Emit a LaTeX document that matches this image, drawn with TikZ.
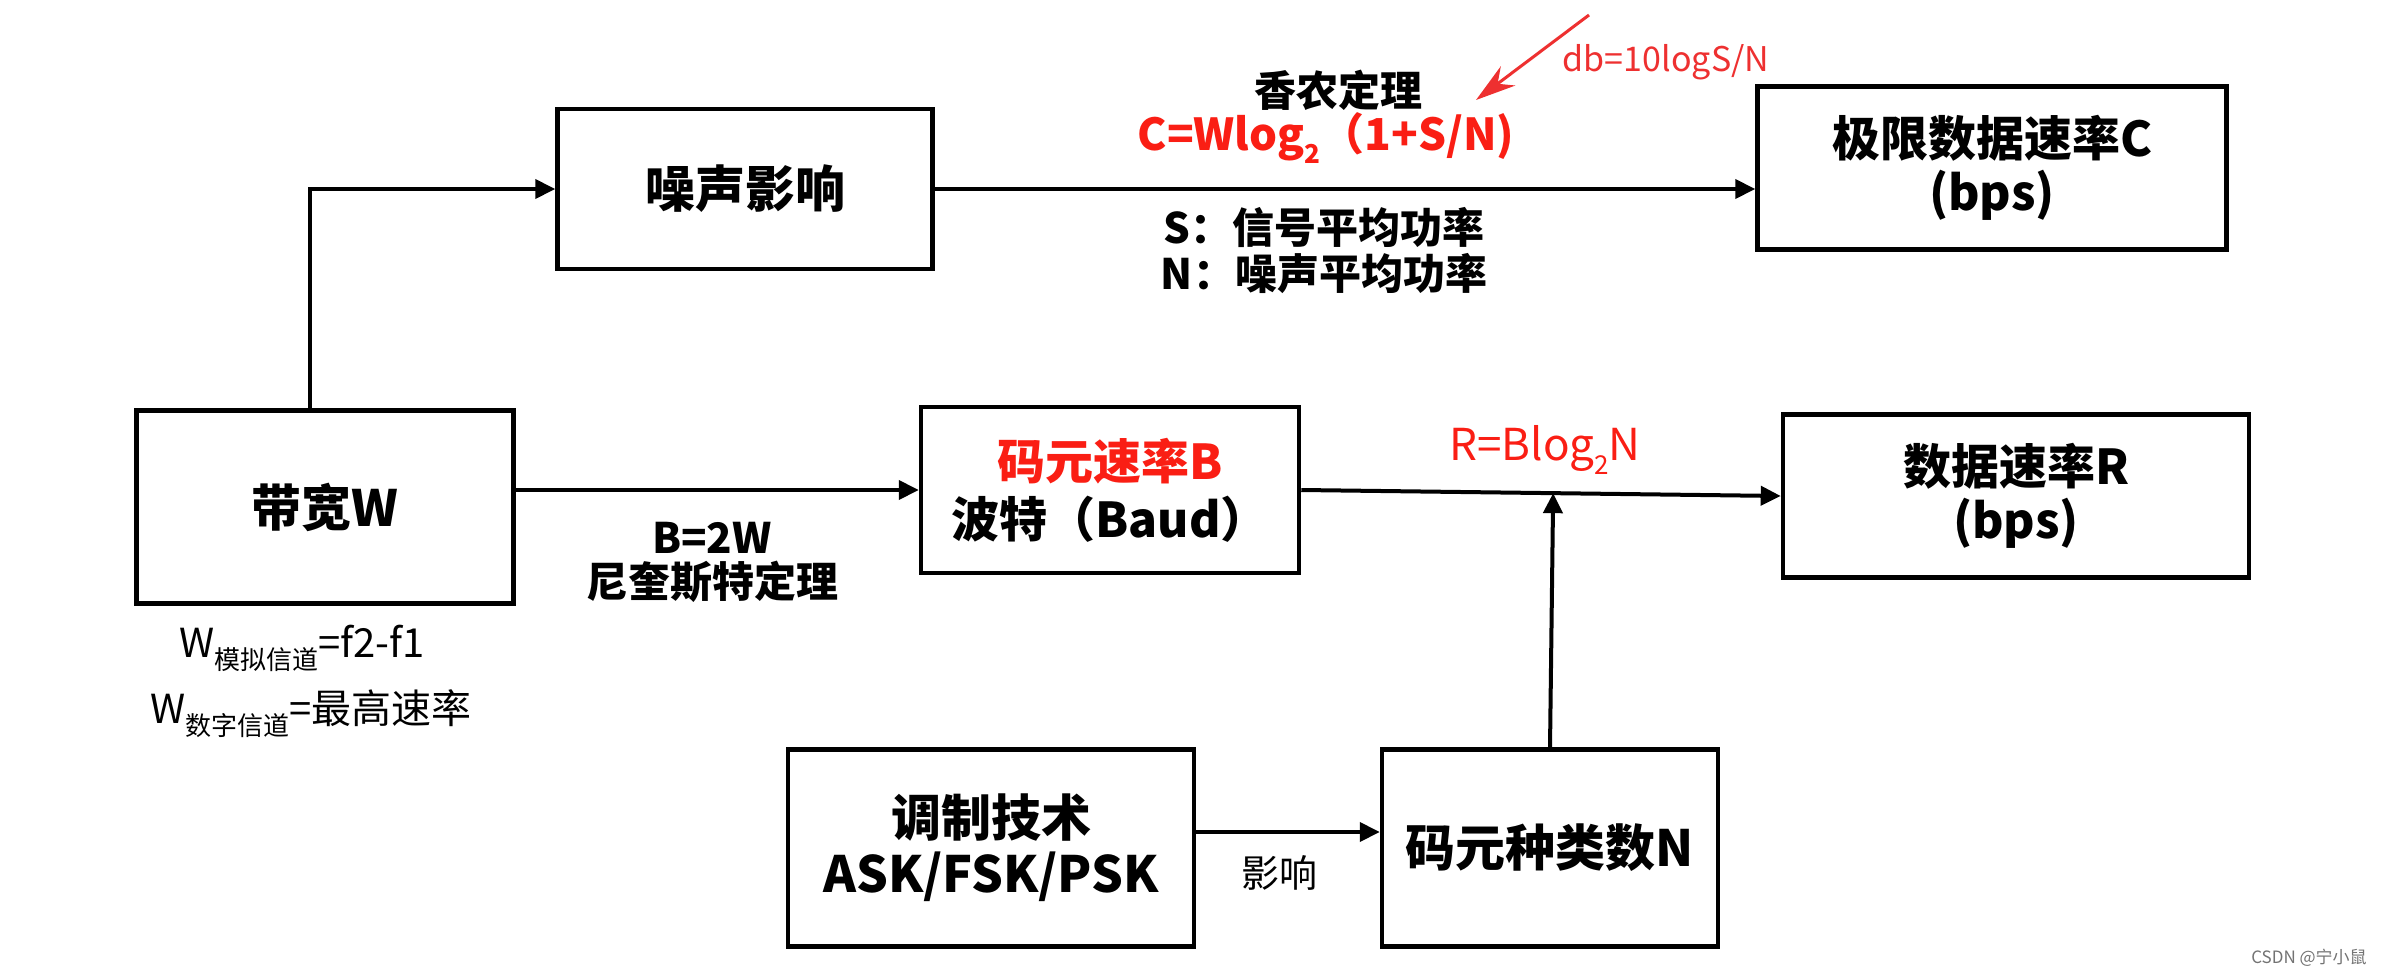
\documentclass[tikz,border=0pt]{standalone}
\usepackage{fontspec}
\setmainfont{Noto Sans CJK SC}
\usetikzlibrary{arrows.meta,calc}
\definecolor{myred}{RGB}{250,30,20}
\definecolor{annred}{RGB}{238,48,48}
\newcommand\fs[1]{\fontsize{#1}{#1}\selectfont}
\newcommand\lowsub[1]{\raisebox{-0.3em}{\fontsize{26}{26}\selectfont #1}}
\begin{document}
\begin{tikzpicture}[x=1pt,y=-1pt,
  box/.style={draw,line width=4.5pt,inner sep=0pt,align=center,font=\fs{50}\bfseries},
  conn/.style={line width=4pt,-{Triangle[length=20pt,width=19pt]}},
  lbl/.style={inner sep=0pt,align=center,font=\fs{42}\bfseries},
  plain/.style={inner sep=0pt,align=center,font=\fs{42}}]
\useasboundingbox (0,0) rectangle (2382,974);
\fill[white] (0,0) rectangle (2382,974);
% boxes
\node[box,minimum width=375pt,minimum height=160pt] (noise) at (745,189) {噪声影响};
\node[box,minimum width=469pt,minimum height=163pt,font=\fs{48}\bfseries] (limit) at (1992,168) {极限数据速率C\\[6pt](bps)};
\node[box,minimum width=377pt,minimum height=193pt] (bw) at (325,507) {带宽W};
\node[box,minimum width=378pt,minimum height=166pt,font=\fs{48}\bfseries] (baud) at (1110,490) {\textcolor{myred}{码元速率B}\\[10pt]波特（Baud）};
\node[box,minimum width=466pt,minimum height=163pt,font=\fs{48}\bfseries] (rate) at (2016,496) {数据速率R\\[6pt](bps)};
\node[box,minimum width=406pt,minimum height=197pt] (mod) at (991,848) {调制技术\\[6pt]ASK/FSK/PSK};
\node[box,minimum width=336pt,minimum height=197pt] (kind) at (1550,848) {码元种类数N};
% connectors
\coordinate (bwtop) at ($(bw.north west)!0.46!(bw.north east)$);
\draw[conn] (bwtop) |- (noise.west);
\draw[conn] (noise.east) -- (noise.east -| limit.west);
\draw[conn] (bw.east |- baud.west) -- (baud.west);
\draw[conn] (baud.east) -- (rate.west);
\coordinate (jn) at ($(baud.east)!(kind.north)!(rate.west)$);
\draw[conn] (kind.north) -- (jn);
\draw[conn] ([yshift=16pt]mod.east) -- ([yshift=16pt]kind.west);
% labels
\node[lbl] (shannon) at (1338,90) {香农定理};
\node[lbl,text=myred,font=\fs{44}\bfseries] (cform) at (1326,138) {C=Wlog\lowsub{2}（1+S/N)};
\node[lbl] (snlbl) at (1324,251) {S：信号平均功率\\[4pt]N：噪声平均功率};
\node[plain,text=annred,font=\fs{34}] (db) at (1666,62) {db=10logS/N};
\coordinate (anntail) at (1589,15);
\coordinate (anntip) at (1476,100);
\draw[annred,line width=3pt,-{Stealth[length=40pt,width=24pt]}] (anntail) -- (anntip);
\node[plain,text=myred,font=\fs{44}] (rform) at (1545,450) {R=Blog\lowsub{2}N};
\node[lbl] (nyq) at (712,562) {B=2W\\[2pt]尼奎斯特定理};
\node[plain,anchor=west,font=\fs{40}] (wa) at (179,648) {W\lowsub{模拟信道}=f2-f1};
\node[plain,anchor=west,font=\fs{40}] (wd) at (150,714) {W\lowsub{数字信道}=最高速率};
\node[plain,font=\fs{38}] (eff) at (1279,873) {影响};
\node[plain,text=black!55,font=\fs{17}] (wm) at (2309,958) {CSDN @宁小鼠};
\end{tikzpicture}
\end{document}
